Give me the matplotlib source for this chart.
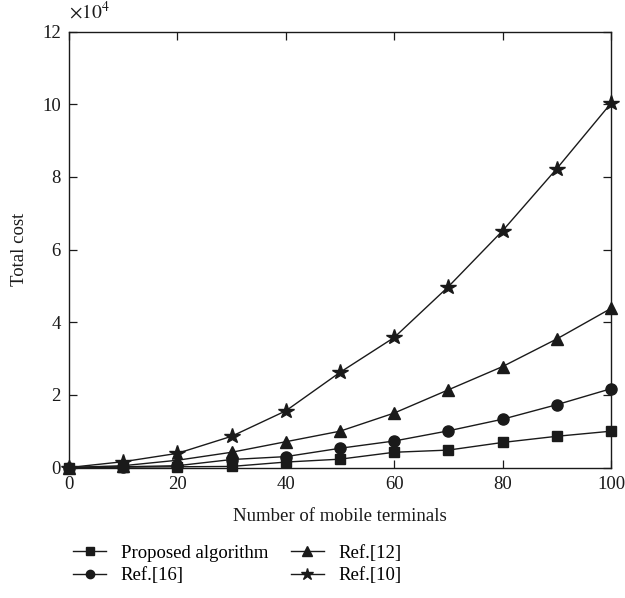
import matplotlib
matplotlib.use("Agg")
import matplotlib.pyplot as plt

plt.rcParams['font.family'] = ['Liberation Serif', 'DejaVu Serif']
plt.rcParams['mathtext.fontset'] = 'stix'

terminals = [0, 10, 20, 30, 40, 50, 60, 70, 80, 90, 100]
proposed = [0, 100, 200, 300, 1500, 2300, 4200, 4800, 6900, 8600, 10000]
ref16 = [0, 200, 500, 2200, 3000, 5300, 7300, 10100, 13300, 17300, 21700]
ref12 = [0, 500, 2000, 4200, 7100, 10000, 15000, 21400, 27800, 35400, 43800]
ref10 = [0, 1600, 3900, 8600, 15600, 26200, 35800, 49800, 65200, 82300, 100300]

xticks = [0, 20, 40, 60, 80, 100]
yticks = [0, 2, 4, 6, 8, 10, 12]
scale = 1e4

fig = plt.figure(figsize=(6.25, 5.98), dpi=100)
ax = fig.add_axes([0.1104, 0.2182, 0.8672, 0.7288])

series = [
    (proposed, 's', 7.0, 'Proposed algorithm'),
    (ref16, 'o', 8.0, 'Ref.[16]'),
    (ref12, '^', 9.0, 'Ref.[12]'),
    (ref10, '*', 11.5, 'Ref.[10]'),
]
handles = {}
for vals, m, ms, lab in series:
    h, = ax.plot(terminals, [v / scale for v in vals], color='#1a1a1a', lw=1.0,
                 marker=m, markersize=ms, markerfacecolor='#1a1a1a',
                 markeredgecolor='#1a1a1a', label=lab, clip_on=False, zorder=3)
    handles[lab] = h

ax.set_xlim(0, 100)
ax.set_ylim(0, 12)
ax.set_xticks(xticks)
ax.set_yticks(yticks)
ax.tick_params(direction='in', length=5.5, width=0.9, top=True, right=True,
               labelsize=13.5, colors='#1a1a1a', pad=6)
for s in ax.spines.values():
    s.set_linewidth(1.0)
    s.set_color('#1a1a1a')

ax.set_xlabel('Number of mobile terminals', fontsize=13.5, labelpad=11, color='#1a1a1a')
ax.set_ylabel('Total cost', fontsize=13.5, labelpad=10, color='#1a1a1a')
ax.text(0.0, 1.02, r'$\times10^4$', transform=ax.transAxes, fontsize=14,
        ha='left', va='bottom', color='#1a1a1a')

order = ['Proposed algorithm', 'Ref.[16]', 'Ref.[12]', 'Ref.[10]']
fig.legend([handles[k] for k in order], order, ncol=2, frameon=False,
           loc='upper left', bbox_to_anchor=(0.105, 0.102), fontsize=13.5,
           handlelength=1.75, handletextpad=0.8, columnspacing=1.2,
           labelspacing=0.3, markerscale=0.75, borderaxespad=0)

fig.savefig('out.png', dpi=100)
